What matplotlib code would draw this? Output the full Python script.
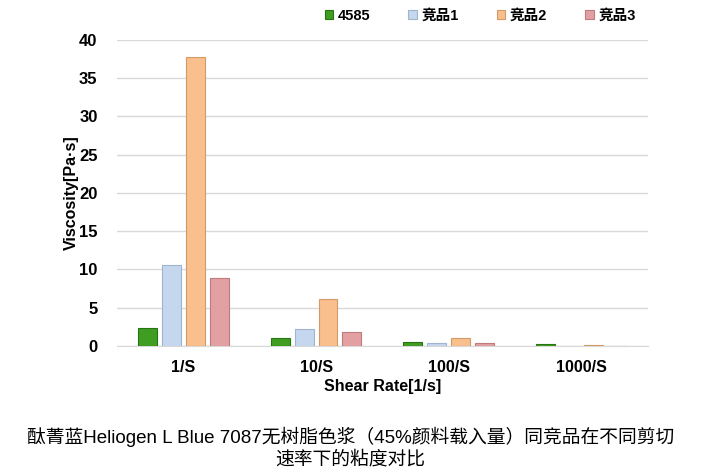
import numpy as np
import matplotlib.pyplot as plt

plt.rcParams['font.family'] = ['Liberation Sans', 'Noto Sans CJK SC', 'DejaVu Sans']

categories = ['1/S', '10/S', '100/S', '1000/S']
series_names = ['4585', '竞品1', '竞品2', '竞品3']
v_4585 = [2.4, 1.1, 0.5, 0.2]
v_comp1 = [10.6, 2.2, 0.35, 0.05]
v_comp2 = [37.8, 6.2, 1.0, 0.15]
v_comp3 = [8.85, 1.85, 0.4, 0.05]
colors = ['#3f9e22', '#c5d7ee', '#f9c08e', '#e3a0a2']
edges = ['#2a7312', '#9fb3cc', '#d49a66', '#bf7a7c']

fig = plt.figure(figsize=(7.01, 4.75), dpi=100)
ax = fig.add_axes([0.167, 0.2716, 0.757, 0.6444])

x = np.arange(len(categories))
step = 0.18
width = 0.143
for i, vals in enumerate([v_4585, v_comp1, v_comp2, v_comp3]):
    ax.bar(x + (i - 1.5) * step, vals, width, color=colors[i], edgecolor=edges[i],
           linewidth=0.8, label=series_names[i], zorder=3)

ax.set_xlim(-0.5, 3.5)
ax.set_ylim(0, 40)
ax.set_yticks(range(0, 41, 5))
ax.set_xticks(x)
ax.set_xticklabels(categories, fontsize=11.5, fontweight='bold')
ax.tick_params(axis='y', labelsize=12, length=0, pad=14)
ax.tick_params(axis='x', length=0, pad=10)
for lbl in ax.get_yticklabels():
    lbl.set_fontweight('bold')
ax.grid(axis='y', color='#d9d9d9', linewidth=1, zorder=0)
for s in ['top', 'right', 'left']:
    ax.spines[s].set_visible(False)
ax.spines['bottom'].set_color('#d9d9d9')

ax.set_xlabel('Shear Rate[1/s]', fontsize=11.5, fontweight='bold', labelpad=3)
ax.set_ylabel('Viscosity[Pa·s]', fontsize=11.5, fontweight='bold', labelpad=0)

leg = fig.legend(loc='center', bbox_to_anchor=(0.685, 0.967), ncol=4, frameon=False,
                 handlelength=0.6, handleheight=0.6, columnspacing=2.6, handletextpad=0.3,
                 prop={'weight': 'bold', 'size': 10.5})

fig.text(0.5, 0.057, '酞菁蓝Heliogen L Blue 7087无树脂色浆（45%颜料载入量）同竞品在不同剪切\n速率下的粘度对比',
         ha='center', va='center', fontsize=13.5, linespacing=1.25,
         family=['Liberation Sans', 'Noto Sans CJK SC'])

fig.savefig('out.png', dpi=100)
